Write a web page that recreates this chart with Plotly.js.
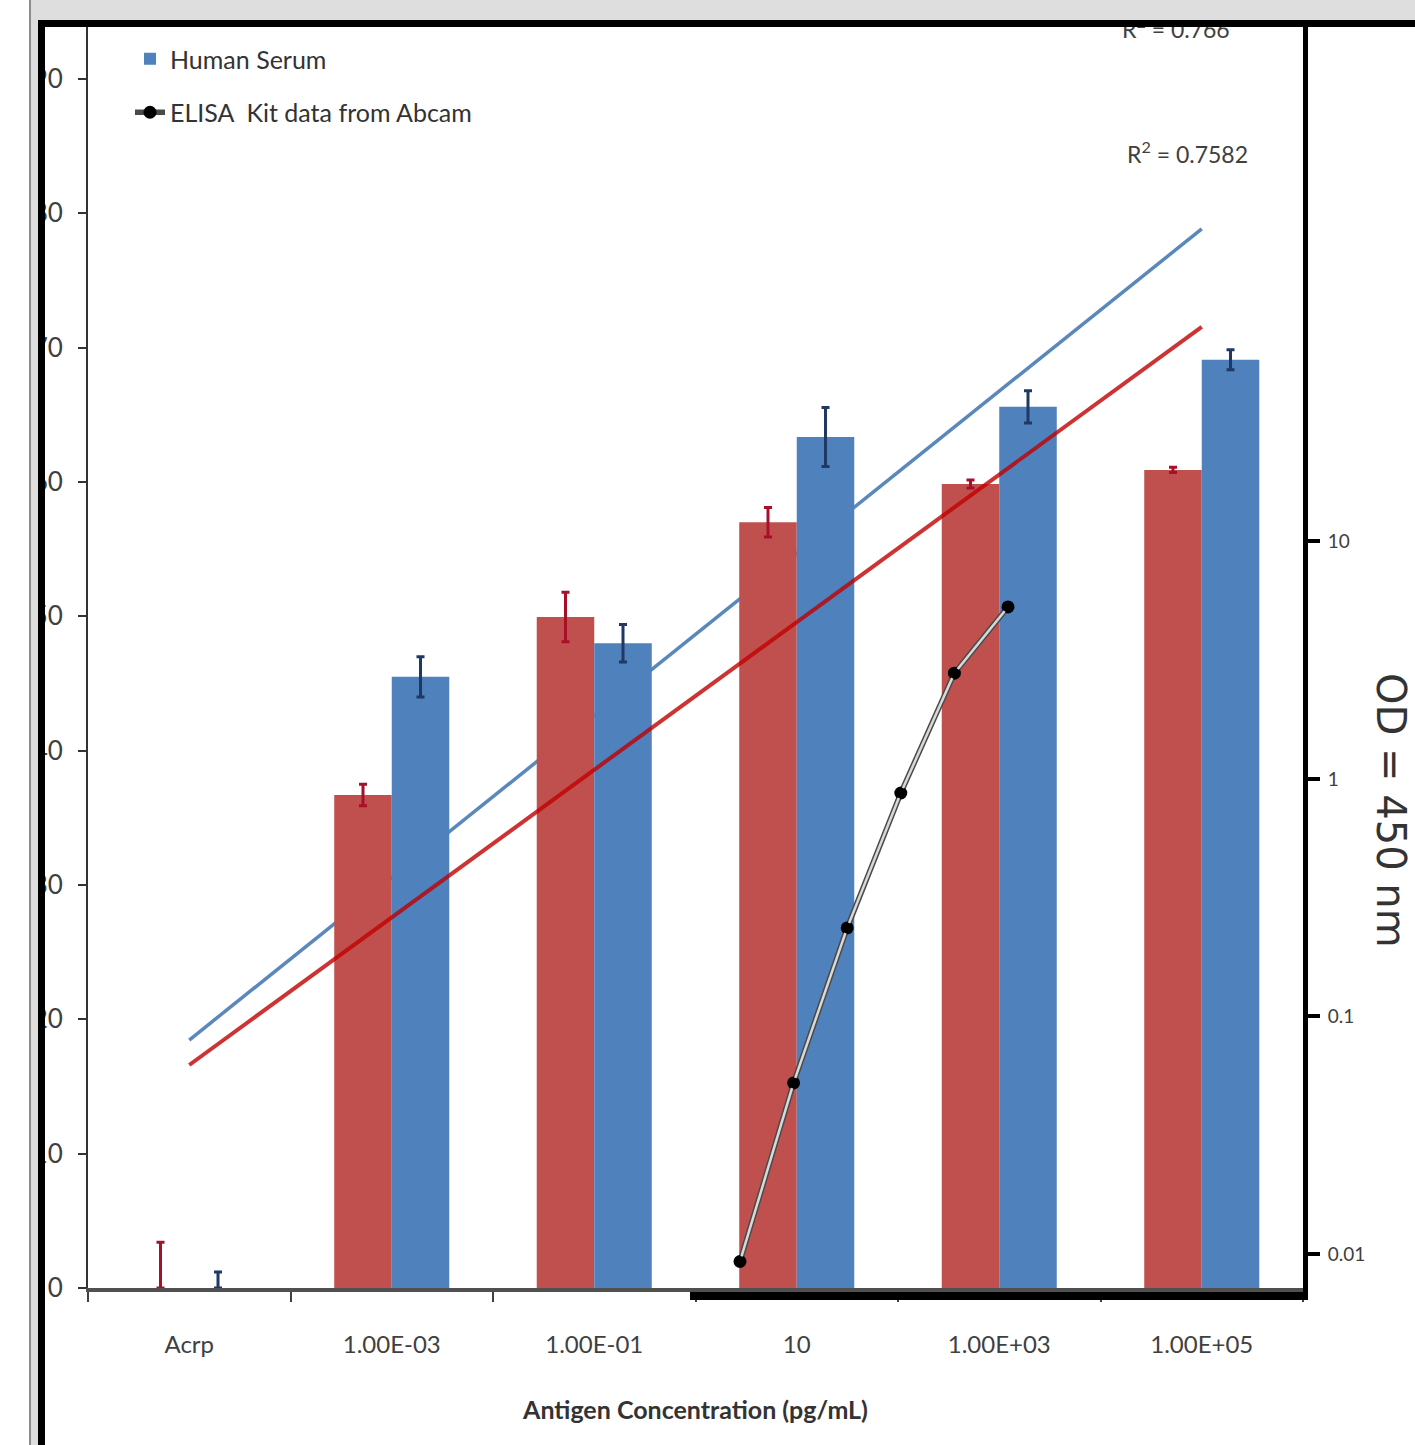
<!DOCTYPE html>
<html><head><meta charset="utf-8">
<script src="https://cdn.plot.ly/plotly-3.0.1.min.js"></script>
<style>
body{margin:0;background:#fff;}
#wrap{position:relative;width:1415px;height:1445px;overflow:hidden;}
#chart{position:absolute;left:0;top:0;width:1415px;height:1445px;}
.ov{position:absolute;pointer-events:none;}
</style></head><body>
<div id="wrap"><div id="chart"></div>
<div class="ov" style="left:0;top:0;width:29px;height:1445px;background:#fff"></div>
<div class="ov" style="left:29px;top:0;width:2px;height:1445px;background:#8c8c8c"></div>
<div class="ov" style="left:31px;top:0;width:1384px;height:20px;background:#dedede"></div>
<div class="ov" style="left:31px;top:20px;width:7px;height:1425px;background:#dedede"></div>
<div class="ov" style="left:38px;top:20px;width:1377px;height:7px;background:#000"></div>
<div class="ov" style="left:38px;top:20px;width:7px;height:1425px;background:#000"></div>
</div>
<script>
// ---- data ----
const categories = ["Acrp", "1.00E-03", "1.00E-01", "10", "1.00E+03", "1.00E+05"];
const redName = "Buffer";
const redValues = [0, 36.7, 49.95, 57.0, 59.85, 60.9];
const redErrPlus = [3.4, 0.8, 1.85, 1.1, 0.3, 0.2];
const redErrMinus = [0, 0.8, 1.85, 1.1, 0.3, 0.2];
const blueName = "Human Serum";
const blueValues = [0, 45.5, 48.0, 63.35, 65.6, 69.1];
const blueErrPlus = [1.2, 1.5, 1.4, 2.2, 1.2, 0.75];
const blueErrMinus = [0, 1.5, 1.4, 2.2, 1.2, 0.75];
const trendX = ["Acrp", "1.00E+05"];
const blueTrendY = [18.46, 78.84];
const redTrendY = [16.6, 71.54];
const elisaName = "ELISA  Kit data from Abcam";
const elisaX = [1, 2, 3, 4, 5, 6];
const elisaOD = [0.0093, 0.0525, 0.236, 0.873, 2.79, 5.3];
const leftTicks = [0, 10, 20, 30, 40, 50, 60, 70, 80, 90];
const rightTicks = [0.01, 0.1, 1, 10];
const rightTickText = ["0.01", "0.1", "1", "10"];
const r2Texts = ["R<sup>2</sup> = 0.766", "R<sup>2</sup> = 0.7582"];
const xTitle = "Antigen Concentration (pg/mL)";
const rightTitle = "OD = 450 nm";

const FONT = "Lato, sans-serif";
const RED = "#c0504d", BLUE = "#4f81bd";

const traces = [
  // blue trendline behind bars (base subplot)
  {type: "scatter", mode: "lines", x: trendX, y: blueTrendY, xaxis: "x", yaxis: "y",
   line: {color: "#5a88bd", width: 3.5}, showlegend: false, hoverinfo: "skip"},
  // bars on overlay axis
  {type: "bar", name: redName, x: categories, y: redValues, xaxis: "x", yaxis: "y2",
   marker: {color: RED}, showlegend: false, legendgroup: "a",
   error_y: {type: "data", symmetric: false, array: redErrPlus, arrayminus: redErrMinus,
             color: "#a8102a", thickness: 3, width: 4}},
  {type: "bar", name: blueName, x: categories, y: blueValues, xaxis: "x", yaxis: "y2",
   marker: {color: BLUE}, legendgroup: "b",
   error_y: {type: "data", symmetric: false, array: blueErrPlus, arrayminus: blueErrMinus,
             color: "#1f3864", thickness: 3, width: 4}},
  // red trendline over bars
  {type: "scatter", mode: "lines", x: trendX, y: redTrendY, xaxis: "x", yaxis: "y2",
   line: {color: "#c00000", width: 4}, opacity: 0.8, showlegend: false, hoverinfo: "skip"},
  // ELISA kit curve on secondary axes
  {type: "scatter", mode: "lines+markers", name: elisaName, x: elisaX, y: elisaOD,
   xaxis: "x2", yaxis: "y3", legendgroup: "c",
   line: {color: "#4a4a4a", width: 5.5}, marker: {color: "#000", size: 13, symbol: "circle"}},
  {type: "scatter", mode: "lines", x: elisaX, y: elisaOD, xaxis: "x2", yaxis: "y3",
   line: {color: "#d8d8d8", width: 2.5}, showlegend: false, hoverinfo: "skip"},
  {type: "scatter", mode: "markers", x: elisaX, y: elisaOD, xaxis: "x2", yaxis: "y3",
   marker: {color: "#000", size: 11, symbol: "circle"}, showlegend: false, hoverinfo: "skip"}
];

const plotTop = 27, plotBottom = 1292, plotH = plotBottom - plotTop;
const px = p => (p - 88) / 1215;
const py = p => (plotBottom - p) / plotH;

const layout = {
  width: 1415, height: 1445,
  margin: {l: 88, r: 112, t: plotTop, b: 1445 - plotBottom, pad: 0},
  paper_bgcolor: "#ffffff", plot_bgcolor: "rgba(0,0,0,0)",
  font: {family: FONT, color: "#404040"},
  barmode: "group", bargap: 0.432, bargroupgap: 0,
  showlegend: true,
  legend: {x: px(130), y: py(36), xanchor: "left", yanchor: "top",
           bgcolor: "rgba(0,0,0,0)", font: {family: FONT, size: 25, color: "#333"},
           tracegroupgap: 18},
  xaxis: {type: "category", categoryorder: "array", categoryarray: categories,
          domain: [0, 1], range: [-0.5, 5.5], anchor: "y",
          tickson: "boundaries", ticks: "outside", ticklen: 10, tickwidth: 2, tickcolor: "#404040",
          showline: true, linecolor: "#505050", linewidth: 4, showgrid: false, zeroline: false,
          tickfont: {family: FONT, size: 24, color: "#404040"}, ticklabelstandoff: 32,
          title: {text: "<b>" + xTitle + "</b>", font: {family: FONT, size: 25, color: "#333"}, standoff: 46}},
  yaxis: {domain: [4 / plotH, 1], range: [0, 93.87], anchor: "x",
          tickvals: leftTicks, ticks: "outside", ticklen: 8, tickwidth: 2, tickcolor: "#333",
          showline: true, linecolor: "#333", linewidth: 2, showgrid: false, zeroline: false,
          tickfont: {family: FONT, size: 26, color: "#404040"}, ticklabelstandoff: 10},
  yaxis2: {overlaying: "y", range: [0, 93.87], visible: false, showgrid: false, zeroline: false},
  xaxis2: {domain: [px(690), 1], range: [1 - 50 / 53.6, 1 - 50 / 53.6 + 613 / 53.6], anchor: "y3",
           showline: true, linecolor: "#000", linewidth: 8, showticklabels: false, ticks: "",
           showgrid: false, zeroline: false},
  yaxis3: {domain: [0, 1], type: "log", range: [-2.16, 3.166], anchor: "x2", side: "right",
           tickvals: rightTicks, ticktext: rightTickText, ticks: "outside", ticklen: 12, tickwidth: 4,
           tickcolor: "#000", showline: true, linecolor: "#000", linewidth: 5, showgrid: false,
           zeroline: false, tickfont: {family: FONT, size: 19, color: "#404040"}, ticklabelstandoff: 4},
  annotations: [
    {xref: "paper", yref: "paper", x: px(1176), y: py(28), text: r2Texts[0], showarrow: false,
     xanchor: "center", yanchor: "middle", font: {family: FONT, size: 23, color: "#404040"}},
    {xref: "paper", yref: "paper", x: px(1187), y: py(153), text: r2Texts[1], showarrow: false,
     xanchor: "center", yanchor: "middle", font: {family: FONT, size: 23, color: "#404040"}},
    {xref: "paper", yref: "paper", x: px(1391), y: py(810), text: rightTitle, showarrow: false,
     textangle: 90, xanchor: "center", yanchor: "middle",
     font: {family: "DejaVu Sans, sans-serif", size: 40, color: "#333"}}
  ]
};

Plotly.newPlot("chart", traces, layout, {displayModeBar: false, staticPlot: true});
</script>
</body></html>
